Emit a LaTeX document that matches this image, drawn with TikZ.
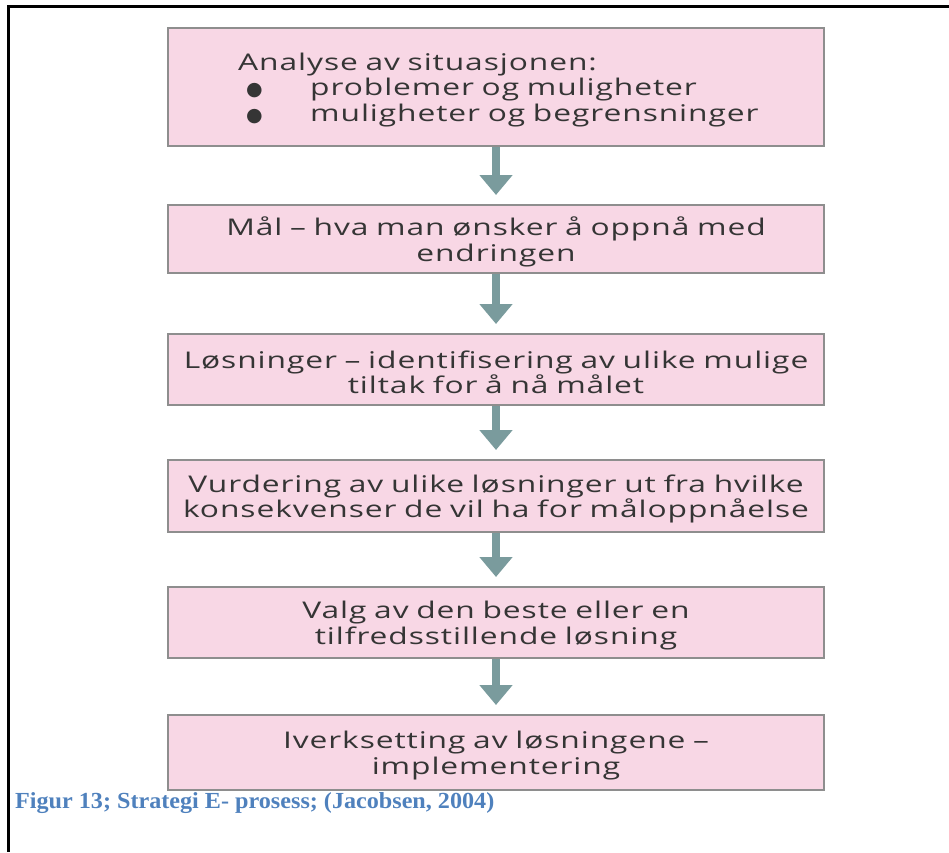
\documentclass[tikz,border=0pt]{standalone}
\usepackage{fontspec}
\setmainfont{Open Sans}
\newfontfamily\boxfont[FakeStretch=1.38,LetterSpace=4]{Open Sans}
\newfontfamily\capfont[FakeStretch=1.05]{Liberation Serif}
\newfontfamily\symfont{DejaVu Sans}
\usetikzlibrary{arrows.meta}
\definecolor{boxfill}{HTML}{F8D7E5}
\definecolor{boxline}{HTML}{8E8E8E}
\definecolor{arrowc}{HTML}{7A9B9D}
\definecolor{txt}{HTML}{353535}
\definecolor{capblue}{HTML}{4F81BD}
\newcommand{\bul}{\hspace*{8pt}\makebox[64pt][l]{\symfont\fontsize{19}{19}\selectfont ●}}
\tikzset{
  stepbox/.style={draw=boxline, line width=2pt, fill=boxfill, minimum width=656pt},
  boxtext/.style={text width=650pt, inner sep=0pt, align=center, text=txt,
    font=\boxfont\fontsize{23}{25.5}\selectfont},
  flowarrow/.style={draw=arrowc, line width=8pt,
    -{Triangle[width=32pt,length=20pt]}, shorten >=9pt}
}
\begin{document}
\begin{tikzpicture}[x=1pt,y=-1pt]
\useasboundingbox (0,0) rectangle (949,852);
\draw[line width=3pt] (949,6) -- (8,6) -- (8,852);
\node[stepbox, minimum height=118pt] (b1) at (496,87) {};
\node[stepbox, minimum height=68pt] (b2) at (496,239) {};
\node[stepbox, minimum height=71pt] (b3) at (496,369.5) {};
\node[stepbox, minimum height=72pt] (b4) at (496,496) {};
\node[stepbox, minimum height=71pt] (b5) at (496,622.5) {};
\node[stepbox, minimum height=75pt] (b6) at (496,752.5) {};
\node[boxtext, text width=580pt, align=left, anchor=west] (t1) at (238,90)
  {Analyse av situasjonen:\\
   \bul problemer og muligheter\\
   \bul muligheter og begrensninger};
\node[boxtext] (t2) at (496,242) {Mål – hva man ønsker å oppnå med\\endringen};
\node[boxtext] (t3) at (496,372.5) {Løsninger – identifisering av ulike mulige\\tiltak for å nå målet};
\node[boxtext] (t4) at (496,499) {Vurdering av ulike løsninger ut fra hvilke\\konsekvenser de vil ha for måloppnåelse};
\node[boxtext] (t5) at (496,625.5) {Valg av den beste eller en\\tilfredsstillende løsning};
\node[boxtext] (t6) at (496,755.5) {Iverksetting av løsningene –\\implementering};
\draw[flowarrow] (b1) -- (b2);
\draw[flowarrow] (b2) -- (b3);
\draw[flowarrow] (b3) -- (b4);
\draw[flowarrow] (b4) -- (b5);
\draw[flowarrow] (b5) -- (b6);
\node[anchor=base west, inner sep=0pt, text=capblue, font=\capfont\bfseries\fontsize{23}{26}\selectfont] (cap) at (15,808)
  {Figur 13; Strategi E- prosess; (Jacobsen, 2004)};
\end{tikzpicture}
\end{document}
